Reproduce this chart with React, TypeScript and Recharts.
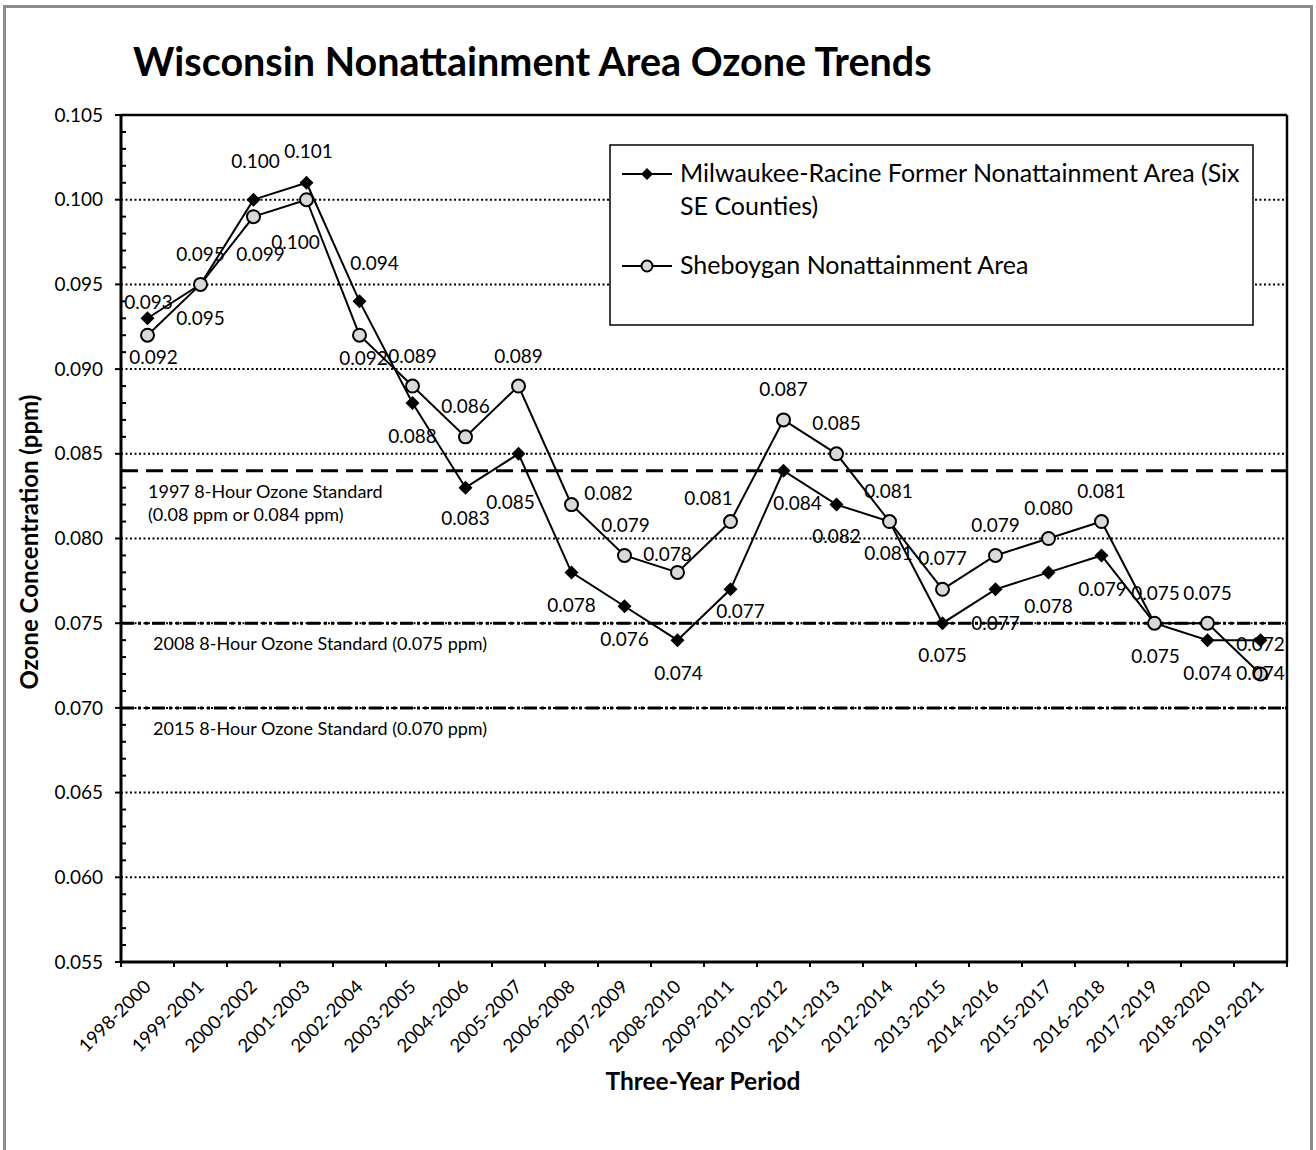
import React from "react";
import { LineChart, Line, XAxis, YAxis, ReferenceLine } from "recharts";

const periods = [
  "1998-2000", "1999-2001", "2000-2002", "2001-2003", "2002-2004", "2003-2005",
  "2004-2006", "2005-2007", "2006-2008", "2007-2009", "2008-2010", "2009-2011",
  "2010-2012", "2011-2013", "2012-2014", "2013-2015", "2014-2016", "2015-2017",
  "2016-2018", "2017-2019", "2018-2020", "2019-2021",
];

const milwaukee = [
  0.093, 0.095, 0.1, 0.101, 0.094, 0.088, 0.083, 0.085, 0.078, 0.076, 0.074,
  0.077, 0.084, 0.082, 0.081, 0.075, 0.077, 0.078, 0.079, 0.075, 0.074, 0.074,
];

const sheboygan = [
  0.092, 0.095, 0.099, 0.1, 0.092, 0.089, 0.086, 0.089, 0.082, 0.079, 0.078,
  0.081, 0.087, 0.085, 0.081, 0.077, 0.079, 0.08, 0.081, 0.075, 0.075, 0.072,
];

const yMajorTicks = [0.055, 0.06, 0.065, 0.07, 0.075, 0.08, 0.085, 0.09, 0.095, 0.1, 0.105];

const standardValues = [0.084, 0.075, 0.07];
const standardLabels = [
  ["1997 8-Hour Ozone Standard", "(0.08 ppm or 0.084 ppm)"],
  ["2008 8-Hour Ozone Standard (0.075 ppm)"],
  ["2015 8-Hour Ozone Standard (0.070 ppm)"],
];

// label offsets (dx, dy) from each point, copied from the Excel layout
const milwaukeeLabelPos = [
  [1, -16], [0, 34], [2, -38], [2, -31], [15, -38], [0, 33], [0, 31], [-8, 49],
  [0, 33], [0, 33], [1, 33], [10, 22], [14, 33], [0, 32], [-1, 32], [0, 32],
  [0, 34], [0, 34], [1, 34], [1, 33], [0, 33], [0, 33],
];
const sheboyganLabelPos = [
  [6, 22], [0, -30], [7, 38], [-11, 43], [4, 23], [0, -30], [0, -31], [0, -30],
  [37, -11], [1, -30], [-10, -18], [-22, -23], [0, -31], [0, -30], [-1, -30], [0, -31],
  [0, -30], [0, -30], [0, -30], [1, -30], [0, -30], [0, -30],
];

const data = periods.map((p, i) => ({
  idx: i,
  period: p,
  milwaukee: milwaukee[i],
  sheboygan: sheboygan[i],
}));

const FONT = "Lato, 'Open Sans', sans-serif";

// category labels on whole numbers, tick marks on the half steps between them
const xTicks: number[] = [];
for (let i = -1; i <= periods.length * 2 - 1; i++) xTicks.push(i / 2);
const yTicks: number[] = [];
for (let i = 55; i <= 105; i++) yTicks.push(i / 1000);

function XTick({ x, y, payload }: any) {
  const v = payload.value;
  if (!Number.isInteger(v)) {
    return <line x1={x} x2={x} y1={y} y2={y + 5} stroke="#000" strokeWidth={2} />;
  }
  const ax = x + 4.5;
  const ay = y + 26;
  return (
    <text
      x={ax}
      y={ay}
      transform={`rotate(-45 ${ax} ${ay})`}
      textAnchor="end"
      fontSize={18.5}
      fontFamily={FONT}
      fill="#000"
    >
      {periods[v]}
    </text>
  );
}

function YTick({ x, y, payload }: any) {
  const v = payload.value;
  const major = Math.round(v * 1000) % 5 === 0;
  if (!major) {
    return <line x1={x} x2={x + 5} y1={y} y2={y} stroke="#000" strokeWidth={2} />;
  }
  return (
    <g>
      <line x1={x - 6} x2={x} y1={y} y2={y} stroke="#000" strokeWidth={2} />
      <text x={x - 18} y={y} dy="0.35em" textAnchor="end" fontSize={19} fontFamily={FONT} fill="#000">
        {v.toFixed(3)}
      </text>
    </g>
  );
}

function makeLabel(pos: number[][]) {
  return (props: any) => {
    const { x, y, value, index } = props;
    const [dx, dy] = pos[index] || [0, -30];
    return (
      <text
        key={`l${index}`}
        x={x + dx}
        y={y + dy}
        dy="0.35em"
        textAnchor="middle"
        fontSize={19}
        fontFamily={FONT}
        fill="#000"
      >
        {Number(value).toFixed(3)}
      </text>
    );
  };
}

function Diamond({ cx, cy, index }: any) {
  return (
    <polygon
      key={`d${index}`}
      points={`${cx},${cy - 7} ${cx + 7},${cy} ${cx},${cy + 7} ${cx - 7},${cy}`}
      fill="#000"
    />
  );
}

function Ring({ cx, cy, index }: any) {
  return <circle key={`c${index}`} cx={cx} cy={cy} r={6.5} fill="#d9d9d9" stroke="#000" strokeWidth={2} />;
}

function StdLabel(lines: string[], dash: number) {
  return (props: any) => {
    const vb = props.viewBox || {};
    return (
      <g>
        {lines.map((t, i) => (
          <text
            key={t}
            x={vb.x + (dash === 0 ? 27 : 32)}
            y={vb.y + 27 + i * 23}
            fontSize={18}
            fontFamily={FONT}
            fill="#000"
          >
            {t}
          </text>
        ))}
      </g>
    );
  };
}

export default function App() {
  return (
    <div
      style={{
        position: "absolute",
        left: 0,
        top: 0,
        width: 1316,
        height: 1150,
        overflow: "hidden",
        background: "#fff",
      }}
    >
      <div
        style={{
          position: "absolute",
          left: 3,
          top: 5,
          width: 1304,
          height: 1200,
          border: "3px solid #8c8c8c",
        }}
      />
      <div style={{ position: "absolute", left: 0, top: 0 }}>
        <LineChart
          width={1316}
          height={1150}
          data={data}
          margin={{ top: 115, right: 29, left: 0, bottom: 0 }}
        >
          <XAxis
            type="number"
            dataKey="idx"
            domain={[-0.5, 21.5]}
            ticks={xTicks}
            interval={0}
            allowDecimals
            height={188}
            tickLine={false}
            tickSize={0}
            tickMargin={0}
            axisLine={{ stroke: "#000", strokeWidth: 3 }}
            tick={<XTick />}
          />
          <YAxis
            type="number"
            domain={[0.055, 0.105]}
            ticks={yTicks}
            interval={0}
            width={121}
            allowDataOverflow
            tickLine={false}
            tickSize={0}
            tickMargin={0}
            axisLine={{ stroke: "#000", strokeWidth: 3 }}
            tick={<YTick />}
          />
          {yMajorTicks.slice(1, -1).map((v) => (
            <ReferenceLine key={v} y={v} stroke="#000" strokeWidth={2} strokeDasharray="2 2.5" />
          ))}
          <ReferenceLine y={0.105} stroke="#000" strokeWidth={2.5} />
          <ReferenceLine x={21.5} stroke="#000" strokeWidth={2.5} />
          {standardValues.map((v, i) => (
            <ReferenceLine
              key={`s${v}`}
              y={v}
              stroke="#000"
              strokeWidth={3}
              strokeDasharray={i === 0 ? "17 8" : "13 4 3 4 3 4"}
              label={StdLabel(standardLabels[i], i)}
            />
          ))}
          <Line
            dataKey="milwaukee"
            stroke="#000"
            strokeWidth={2}
            dot={(p: any) => <Diamond {...p} key={`d${p.index}`} />}
            label={makeLabel(milwaukeeLabelPos)}
            isAnimationActive={false}
          />
          <Line
            dataKey="sheboygan"
            stroke="#000"
            strokeWidth={2}
            dot={(p: any) => <Ring {...p} key={`c${p.index}`} />}
            label={makeLabel(sheboyganLabelPos)}
            isAnimationActive={false}
          />
        </LineChart>
      </div>
      <svg
        width={1316}
        height={1150}
        style={{ position: "absolute", left: 0, top: 0, pointerEvents: "none" }}
      >
        <text x={133} y={76} fontSize={39.5} fontWeight={700} fontFamily={FONT} fill="#000">
          Wisconsin Nonattainment Area Ozone Trends
        </text>
        <text
          x={38}
          y={542}
          transform="rotate(-90 38 542)"
          textAnchor="middle"
          fontSize={24}
          fontWeight={700}
          fontFamily={FONT}
          fill="#000"
        >
          Ozone Concentration (ppm)
        </text>
        <text x={703} y={1090} textAnchor="middle" fontSize={24.5} fontWeight={700} fontFamily={FONT} fill="#000">
          Three-Year Period
        </text>
        <rect x={610} y={145} width={643} height={180} fill="#fff" stroke="#000" strokeWidth={1.5} />
        <line x1={622} x2={672} y1={174} y2={174} stroke="#000" strokeWidth={2} />
        <polygon points="647,168 653,174 647,180 641,174" fill="#000" />
        <text x={680} y={182} fontSize={25} fontFamily={FONT} fill="#000">
          Milwaukee-Racine Former Nonattainment Area (Six
        </text>
        <text x={680} y={215} fontSize={25} fontFamily={FONT} fill="#000">
          SE Counties)
        </text>
        <line x1={622} x2={672} y1={266} y2={266} stroke="#000" strokeWidth={2} />
        <circle cx={647} cy={266} r={5.5} fill="#d9d9d9" stroke="#000" strokeWidth={2} />
        <text x={680} y={274} fontSize={25} fontFamily={FONT} fill="#000">
          Sheboygan Nonattainment Area
        </text>
      </svg>
    </div>
  );
}
